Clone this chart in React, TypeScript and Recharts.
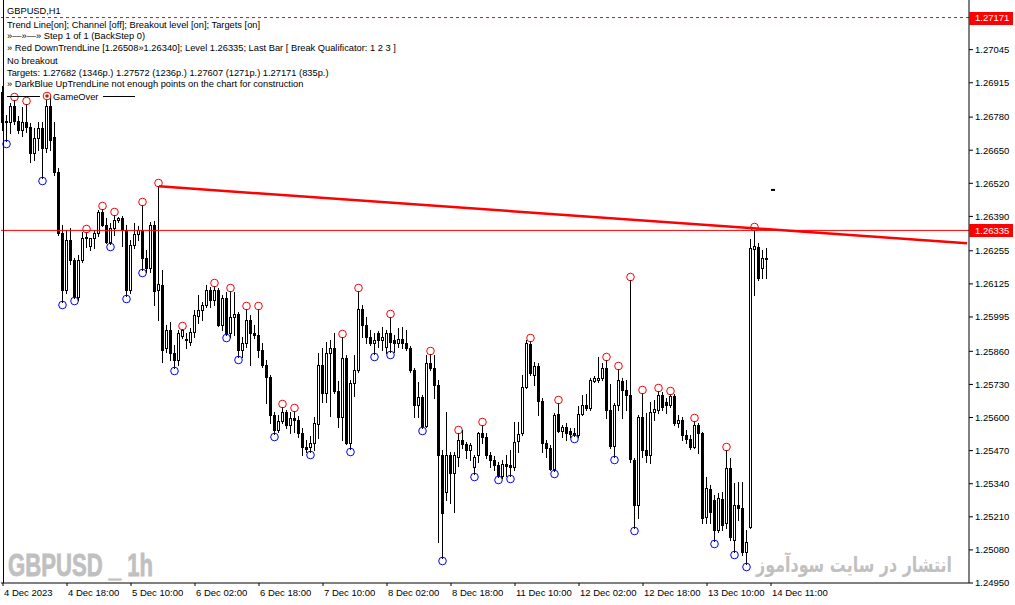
import React from 'react';
import { ComposedChart, Bar, XAxis, YAxis, ReferenceLine } from 'recharts';

// GBPUSD H1, 4 Dec 2023 .. 14 Dec 2023 (192 bars)
const openP = [
  1.26878, 1.26760, 1.26760, 1.26823, 1.26764, 1.26729, 1.26760, 1.26741, 1.26639, 1.26698,
  1.26737, 1.26659, 1.26823, 1.26700, 1.26564, 1.26324, 1.26100, 1.26297, 1.26218, 1.26073,
  1.26218, 1.26305, 1.26273, 1.26305, 1.26324, 1.26407, 1.26356, 1.26289, 1.26344, 1.26375,
  1.26383, 1.26336, 1.26100, 1.26277, 1.26320, 1.26336, 1.26226, 1.26187, 1.26356, 1.26100,
  1.26120, 1.25874, 1.25944, 1.25854, 1.25826, 1.25920, 1.25909, 1.25897, 1.25936, 1.25999,
  1.26023, 1.26042, 1.26100, 1.26062, 1.26100, 1.25963, 1.26070, 1.25932, 1.25995, 1.26007,
  1.25866, 1.25893, 1.25983, 1.25932, 1.25924, 1.25866, 1.25806, 1.25760, 1.25610, 1.25551,
  1.25586, 1.25622, 1.25570, 1.25598, 1.25590, 1.25539, 1.25485, 1.25485, 1.25500, 1.25574,
  1.25806, 1.25696, 1.25854, 1.25874, 1.25704, 1.25602, 1.25834, 1.25500, 1.25736, 1.25787,
  1.26027, 1.25963, 1.25917, 1.25893, 1.25932, 1.25905, 1.25878, 1.25932, 1.25905, 1.25893,
  1.25909, 1.25893, 1.25874, 1.25787, 1.25649, 1.25681, 1.25567, 1.25814, 1.25795, 1.25728,
  1.25453, 1.25307, 1.25453, 1.25382, 1.25445, 1.25512, 1.25496, 1.25473, 1.25406, 1.25453,
  1.25539, 1.25524, 1.25453, 1.25433, 1.25413, 1.25370, 1.25417, 1.25413, 1.25406, 1.25508,
  1.25539, 1.25720, 1.25889, 1.25767, 1.25802, 1.25665, 1.25500, 1.25480, 1.25398, 1.25614,
  1.25547, 1.25563, 1.25547, 1.25539, 1.25531, 1.25614, 1.25649, 1.25637, 1.25744, 1.25748,
  1.25755, 1.25795, 1.25630, 1.25488, 1.25649, 1.25744, 1.25708, 1.25688, 1.25433, 1.25256,
  1.25602, 1.25473, 1.25453, 1.25622, 1.25630, 1.25688, 1.25661, 1.25649, 1.25684, 1.25578,
  1.25590, 1.25531, 1.25516, 1.25485, 1.25570, 1.25539, 1.25209, 1.25319, 1.25276, 1.25158,
  1.25280, 1.25185, 1.25402, 1.25119, 1.25256, 1.25245, 1.25072, 1.25170, 1.26262, 1.26270,
  1.26187, 1.26226,
];
const highP = [
  1.26902, 1.26788, 1.26835, 1.26847, 1.26784, 1.26820, 1.26831, 1.26756, 1.26737, 1.26760,
  1.26760, 1.26847, 1.26859, 1.26760, 1.26580, 1.26355, 1.26336, 1.26344, 1.26226, 1.26238,
  1.26328, 1.26328, 1.26305, 1.26336, 1.26415, 1.26419, 1.26383, 1.26363, 1.26395, 1.26387,
  1.26391, 1.26355, 1.26297, 1.26363, 1.26352, 1.26434, 1.26258, 1.26367, 1.26371, 1.26508,
  1.26179, 1.25963, 1.25975, 1.25886, 1.25944, 1.25948, 1.25932, 1.25952, 1.26023, 1.26081,
  1.26054, 1.26120, 1.26113, 1.26116, 1.26109, 1.26081, 1.26093, 1.26096, 1.26093, 1.26015,
  1.25917, 1.26027, 1.26003, 1.25963, 1.26027, 1.25893, 1.25826, 1.25767, 1.25622, 1.25610,
  1.25642, 1.25630, 1.25622, 1.25626, 1.25606, 1.25559, 1.25512, 1.25528, 1.25602, 1.25854,
  1.25874, 1.25897, 1.25905, 1.25932, 1.25744, 1.25917, 1.25846, 1.25748, 1.25846, 1.26096,
  1.26042, 1.25995, 1.25944, 1.25932, 1.25940, 1.25956, 1.25944, 1.25995, 1.25924, 1.25952,
  1.25956, 1.25944, 1.25882, 1.25795, 1.25740, 1.25688, 1.25846, 1.25850, 1.25846, 1.25748,
  1.25473, 1.25622, 1.25465, 1.25465, 1.25539, 1.25551, 1.25504, 1.25500, 1.25453, 1.25543,
  1.25570, 1.25539, 1.25465, 1.25449, 1.25425, 1.25433, 1.25453, 1.25473, 1.25582, 1.25582,
  1.25767, 1.25905, 1.25901, 1.25818, 1.25814, 1.25677, 1.25512, 1.25491, 1.25618, 1.25657,
  1.25570, 1.25578, 1.25559, 1.25559, 1.25645, 1.25688, 1.25692, 1.25755, 1.25763, 1.25838,
  1.25814, 1.25826, 1.25732, 1.25657, 1.25791, 1.25755, 1.25748, 1.26140, 1.25441, 1.25610,
  1.25696, 1.25618, 1.25661, 1.25669, 1.25704, 1.25700, 1.25677, 1.25692, 1.25692, 1.25610,
  1.25602, 1.25551, 1.25531, 1.25586, 1.25578, 1.25543, 1.25367, 1.25334, 1.25295, 1.25303,
  1.25307, 1.25473, 1.25441, 1.25343, 1.25347, 1.25347, 1.25158, 1.26301, 1.26335, 1.26285,
  1.26258, 1.26266,
];
const lowP = [
  1.26729, 1.26686, 1.26717, 1.26752, 1.26717, 1.26705, 1.26721, 1.26603, 1.26611, 1.26651,
  1.26541, 1.26643, 1.26651, 1.26552, 1.26316, 1.26054, 1.26088, 1.26202, 1.26069, 1.26062,
  1.26210, 1.26270, 1.26258, 1.26266, 1.26312, 1.26352, 1.26285, 1.26281, 1.26316, 1.26367,
  1.26273, 1.26076, 1.26088, 1.26266, 1.26297, 1.26179, 1.26171, 1.26171, 1.26042, 1.25983,
  1.25818, 1.25858, 1.25826, 1.25795, 1.25806, 1.25912, 1.25874, 1.25886, 1.25917, 1.25971,
  1.25983, 1.26035, 1.26035, 1.26042, 1.25959, 1.25944, 1.25924, 1.25917, 1.25924, 1.25838,
  1.25838, 1.25878, 1.25806, 1.25912, 1.25838, 1.25799, 1.25657, 1.25578, 1.25535, 1.25543,
  1.25578, 1.25559, 1.25539, 1.25543, 1.25524, 1.25453, 1.25465, 1.25465, 1.25473, 1.25520,
  1.25661, 1.25661, 1.25606, 1.25696, 1.25563, 1.25512, 1.25496, 1.25477, 1.25684, 1.25779,
  1.25917, 1.25893, 1.25886, 1.25850, 1.25878, 1.25866, 1.25854, 1.25858, 1.25858, 1.25878,
  1.25874, 1.25866, 1.25779, 1.25602, 1.25602, 1.25559, 1.25563, 1.25787, 1.25677, 1.25111,
  1.25048, 1.25276, 1.25264, 1.25229, 1.25410, 1.25480, 1.25441, 1.25433, 1.25378, 1.25425,
  1.25500, 1.25441, 1.25406, 1.25394, 1.25367, 1.25363, 1.25370, 1.25370, 1.25394, 1.25465,
  1.25531, 1.25716, 1.25767, 1.25728, 1.25610, 1.25465, 1.25445, 1.25394, 1.25390, 1.25543,
  1.25524, 1.25512, 1.25524, 1.25528, 1.25524, 1.25610, 1.25630, 1.25630, 1.25740, 1.25740,
  1.25748, 1.25598, 1.25480, 1.25445, 1.25630, 1.25598, 1.25630, 1.25425, 1.25166, 1.25205,
  1.25445, 1.25425, 1.25421, 1.25590, 1.25618, 1.25630, 1.25618, 1.25642, 1.25570, 1.25563,
  1.25512, 1.25500, 1.25477, 1.25480, 1.25461, 1.25185, 1.25185, 1.25185, 1.25115, 1.25150,
  1.25158, 1.25166, 1.25119, 1.25072, 1.25197, 1.25060, 1.25024, 1.25166, 1.26081, 1.26140,
  1.26148, 1.26148,
];
const closeP = [
  1.26760, 1.26764, 1.26823, 1.26764, 1.26729, 1.26760, 1.26741, 1.26639, 1.26698, 1.26737,
  1.26659, 1.26823, 1.26690, 1.26564, 1.26324, 1.26100, 1.26297, 1.26218, 1.26073, 1.26218,
  1.26305, 1.26309, 1.26305, 1.26324, 1.26407, 1.26356, 1.26289, 1.26344, 1.26375, 1.26383,
  1.26336, 1.26100, 1.26277, 1.26320, 1.26336, 1.26226, 1.26187, 1.26356, 1.26096, 1.26124,
  1.25866, 1.25944, 1.25854, 1.25826, 1.25932, 1.25944, 1.25905, 1.25936, 1.26003, 1.26023,
  1.26042, 1.26100, 1.26062, 1.26100, 1.25963, 1.26070, 1.25932, 1.25995, 1.26007, 1.25866,
  1.25893, 1.25983, 1.25932, 1.25924, 1.25866, 1.25806, 1.25760, 1.25610, 1.25551, 1.25586,
  1.25622, 1.25570, 1.25598, 1.25590, 1.25539, 1.25485, 1.25477, 1.25500, 1.25578, 1.25806,
  1.25696, 1.25854, 1.25874, 1.25704, 1.25602, 1.25834, 1.25500, 1.25736, 1.25787, 1.26027,
  1.25963, 1.25917, 1.25893, 1.25905, 1.25905, 1.25917, 1.25932, 1.25897, 1.25893, 1.25909,
  1.25893, 1.25874, 1.25787, 1.25649, 1.25681, 1.25567, 1.25814, 1.25795, 1.25728, 1.25453,
  1.25225, 1.25453, 1.25382, 1.25453, 1.25512, 1.25496, 1.25473, 1.25493, 1.25445, 1.25539,
  1.25524, 1.25453, 1.25433, 1.25413, 1.25370, 1.25417, 1.25409, 1.25406, 1.25504, 1.25535,
  1.25720, 1.25893, 1.25775, 1.25802, 1.25665, 1.25500, 1.25480, 1.25398, 1.25610, 1.25547,
  1.25563, 1.25539, 1.25535, 1.25531, 1.25614, 1.25649, 1.25637, 1.25748, 1.25755, 1.25755,
  1.25795, 1.25630, 1.25488, 1.25649, 1.25748, 1.25708, 1.25688, 1.25437, 1.25256, 1.25602,
  1.25473, 1.25453, 1.25622, 1.25634, 1.25688, 1.25642, 1.25649, 1.25684, 1.25578, 1.25590,
  1.25531, 1.25516, 1.25485, 1.25570, 1.25539, 1.25205, 1.25323, 1.25229, 1.25158, 1.25284,
  1.25177, 1.25402, 1.25131, 1.25256, 1.25245, 1.25072, 1.25111, 1.26266, 1.26273, 1.26148,
  1.26226, 1.26222,
];

// fractal marks (bar indices)
const upFractals = [3, 6, 21, 25, 28, 35, 39, 45, 53, 57, 61, 64, 70, 73, 85, 89, 97, 107, 114, 120,
  132, 139, 151, 154, 157, 160, 164, 167, 173, 181, 188];
const downFractals = [1, 10, 15, 18, 27, 31, 35, 43, 56, 59, 68, 77, 87, 93, 97, 105, 110, 118, 124,
  127, 138, 143, 153, 158, 178, 183, 186];

const timeTicks = [0, 16, 32, 48, 64, 80, 96, 112, 128, 144, 160, 176, 192];
const timeLabels = ['4 Dec 2023', '4 Dec 18:00', '5 Dec 10:00', '6 Dec 02:00', '6 Dec 18:00',
  '7 Dec 10:00', '8 Dec 02:00', '8 Dec 18:00', '11 Dec 10:00', '12 Dec 02:00', '12 Dec 18:00',
  '13 Dec 10:00', '14 Dec 11:00'];

const priceTicks = [1.27171, 1.27045, 1.26915, 1.2678, 1.2665, 1.2652, 1.2639, 1.26335, 1.26255,
  1.26125, 1.25995, 1.2586, 1.2573, 1.256, 1.2547, 1.2534, 1.2521, 1.2508, 1.2495];
const markedPrices = [1.27171, 1.26335];

const targetLevel = 1.27171;
const breakLevel = 1.26335;
const trendFrom = { idx: 39, price: 1.26508 };
const trendLast = { idx: 191, price: 1.2634 };
const nowMark = { idx: 192, price: 1.26494 };

const infoLines = [
  'Trend Line[on]; Channel [off]; Breakout level [on]; Targets [on]',
  '»—»—» Step 1 of 1 (BackStep 0)',
  '» Red DownTrendLine [1.26508»1.26340]; Level 1.26335; Last Bar [ Break Qualificator: 1 2 3 ]',
  'No breakout',
  'Targets: 1.27682 (1346p.) 1.27572 (1236p.) 1.27607 (1271p.) 1.27171 (835p.)',
  '» DarkBlue UpTrendLine not enough points on the chart for construction',
];

const slots = 242;
const FONT = '"Liberation Sans", Arial, sans-serif';

const rows = Array.from({ length: slots }, (_, idx) =>
  idx < openP.length
    ? { idx, open: openP[idx], high: highP[idx], low: lowP[idx], close: closeP[idx], range: [lowP[idx], highP[idx]] }
    : { idx }
);

const slope = (trendLast.price - trendFrom.price) / (trendLast.idx - trendFrom.idx);
const trendEnd = trendFrom.price + slope * (slots - 1 - trendFrom.idx);

const Candle = (props: any) => {
  const { x, y, width, height, payload } = props;
  if (!payload || payload.high == null || !isFinite(y) || !isFinite(height)) return <g />;
  const { open, close, high, low, idx } = payload;
  const k = height / (high - low);
  const cx = Math.floor(x + width / 2 + 0.01) + 0.5;
  const yH = Math.round(y);
  const yL = Math.round(y + height);
  const yO = Math.round(y + (high - open) * k);
  const yC = Math.round(y + (high - close) * k);
  const top = Math.min(yO, yC);
  const bot = Math.max(yO, yC);
  const bull = close >= open;
  return (
    <g shapeRendering="crispEdges">
      <line x1={cx} x2={cx} y1={yH} y2={yL + 1} stroke="#000" strokeWidth={1} />
      {bot - top < 1 ? (
        <line x1={cx - 1.5} x2={cx + 1.5} y1={top + 0.5} y2={top + 0.5} stroke="#000" strokeWidth={1} />
      ) : (
        <rect x={cx - 1} y={top + 0.5} width={2} height={bot - top} fill={bull ? '#fff' : '#000'} stroke="#000" strokeWidth={1} />
      )}
      {upFractals.includes(idx) && (
        <circle cx={cx} cy={yH - 3} r={3.8} fill="none" stroke="#ff0000" strokeWidth={1} shapeRendering="auto" />
      )}
      {downFractals.includes(idx) && (
        <circle cx={cx} cy={yL + 3} r={3.8} fill="none" stroke="#0000ff" strokeWidth={1} shapeRendering="auto" />
      )}
    </g>
  );
};

const PriceTick = (props: any) => {
  const { x, y, payload } = props;
  const v = payload.value;
  const label = v.toFixed(5);
  if (markedPrices.includes(v)) {
    return (
      <g>
        <rect x={x - 6} y={Math.round(y) - 6} width={44} height={13} fill="#ff0000" />
        <text x={x} y={y} dy="0.355em" fill="#fff" fontSize={9.5} fontFamily={FONT}>{label}</text>
      </g>
    );
  }
  return <text x={x} y={y} dy="0.355em" fill="#000" fontSize={9.5} fontFamily={FONT}>{label}</text>;
};

const TimeTick = (props: any) => {
  const { x, y, payload } = props;
  const label = timeLabels[timeTicks.indexOf(payload.value)];
  return <text x={x + 1} y={y} dy="0.71em" textAnchor="start" fill="#000" fontSize={9.5} fontFamily={FONT}>{label}</text>;
};

export default function App() {
  return (
    <div style={{ position: 'absolute', left: 0, top: 0, width: 1015, height: 605, background: '#fff', overflow: 'hidden' }}>
      <ComposedChart width={1015} height={605} data={rows} margin={{ top: 0, right: 0, bottom: 0, left: 1 }}>
        <XAxis
          dataKey="idx"
          type="category"
          ticks={timeTicks}
          interval={0}
          height={22}
          tickSize={3}
          tickMargin={3}
          stroke="#000"
          tick={<TimeTick />}
        />
        <YAxis
          orientation="right"
          width={46}
          domain={[1.2495, 1.2724]}
          allowDataOverflow
          ticks={priceTicks}
          interval={0}
          tickSize={4}
          tickMargin={2}
          stroke="#000"
          tick={<PriceTick />}
        />
        <ReferenceLine y={targetLevel} stroke="#ff0000" strokeDasharray="3 3" />
        <ReferenceLine y={breakLevel} stroke="#ff0000" strokeWidth={1} />
        <Bar dataKey="range" isAnimationActive={false} shape={(p: any) => <Candle {...p} />} />
        <ReferenceLine
          segment={[{ x: trendFrom.idx, y: trendFrom.price }, { x: slots - 1, y: trendEnd }]}
          stroke="#ff0000"
          strokeWidth={2.5}
        />
        <ReferenceLine
          segment={[{ x: nowMark.idx, y: nowMark.price }, { x: nowMark.idx + 1, y: nowMark.price }]}
          stroke="#000"
          strokeWidth={2}
        />
      </ComposedChart>

      <div style={{ position: 'absolute', left: 3, top: 0, width: 1, height: 583, background: '#000' }} />

      <svg width={1015} height={605} style={{ position: 'absolute', left: 0, top: 0, pointerEvents: 'none' }}>
        <g fontFamily={FONT} fontSize={9.3} fill="#000">
          <text x={7} y={14}>GBPUSD,H1</text>
          {infoLines.map((t, i) => (
            <text key={i} x={7} y={[28, 39, 51, 63.5, 75.5, 87][i]}>{t}</text>
          ))}
          <line x1={7} x2={40} y1={96.5} y2={96.5} stroke="#000" />
          <circle cx={47} cy={96} r={3.8} fill="#fff" stroke="#ff0000" />
          <circle cx={47} cy={96} r={1.8} fill="#8a3a1a" />
          <text x={53} y={99.5}>GameOver</text>
          <line x1={103} x2={135} y1={96.5} y2={96.5} stroke="#000" />
        </g>
        <text x={8} y={576} fontFamily={'"Liberation Sans", Arial, sans-serif'}
          fontWeight="bold" fontSize={31} fill="#c0c0c0" stroke="#c0c0c0" strokeWidth={0.8}
          textLength={145} lengthAdjust="spacingAndGlyphs">
          GBPUSD _ 1h
        </text>
        <text x={854} y={572} textAnchor="middle" fontFamily={'"DejaVu Sans", sans-serif'} fontWeight="bold"
          fontSize={21} fill="#c0c0c0" textLength={196} lengthAdjust="spacingAndGlyphs">
          انتشار در سایت سودآموز
        </text>
      </svg>
    </div>
  );
}
